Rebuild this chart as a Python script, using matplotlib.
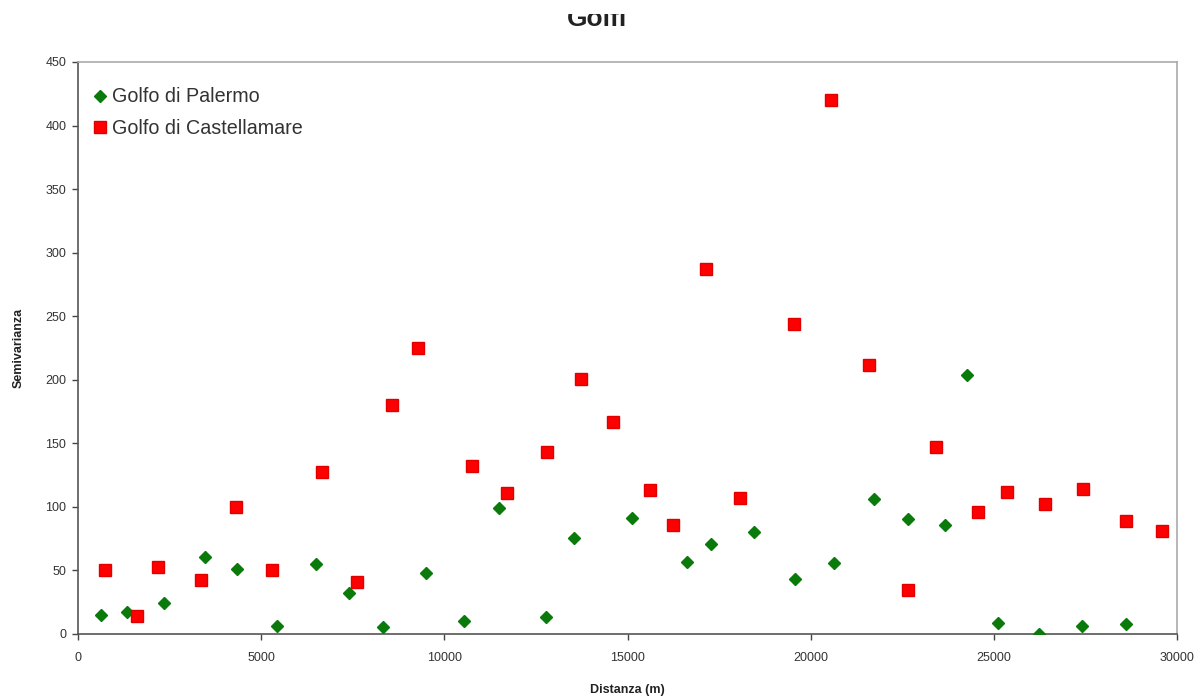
import matplotlib
matplotlib.use("Agg")
import matplotlib.pyplot as plt
from matplotlib.patches import Rectangle

plt.rcParams['font.family'] = ['Liberation Sans', 'DejaVu Sans']

title = "Golfi"
x_label = "Distanza (m)"
y_label = "Semivarianza"

palermo_label = "Golfo di Palermo"
palermo_x = [630, 1350, 2350, 3470, 4340, 5425, 6510, 7385, 8315, 9490,
             10530, 11480, 12780, 13530, 15130, 16630, 17270, 18460, 19566, 20641,
             21734, 22645, 23670, 24280, 25109, 26239, 27395, 28607]
palermo_y = [15, 17, 24, 60.5, 51, 6, 55, 32.5, 5.5, 48,
             10, 99.5, 13.4, 75.5, 91.3, 56.7, 71, 80, 43, 56,
             106, 90.5, 86, 204, 8.7, 0, 6, 7.6]

castel_label = "Golfo di Castellamare"
castel_x = [738, 1613, 2197, 3355, 4303, 5305, 6660, 7603, 8570, 9280,
            10765, 11705, 12790, 13720, 14615, 15610, 16235, 17130, 18070, 19545,
            20550, 21605, 22650, 23410, 24563, 25355, 26393, 27432, 28598, 29590]
castel_y = [50, 14.4, 53, 42.5, 99.7, 50, 127.5, 40.7, 179.8, 224.7,
            132, 111, 143.3, 201, 166.7, 113.6, 85.7, 287, 106.6, 244,
            420, 212, 35, 147.5, 96.3, 111.5, 102.4, 114, 89, 81.4]

x_ticks = [0, 5000, 10000, 15000, 20000, 25000, 30000]
y_ticks = [0, 50, 100, 150, 200, 250, 300, 350, 400, 450]

fig = plt.figure(figsize=(12.04, 6.97), dpi=100)
ax = fig.add_axes([78/1204, 63/697, 1099/1204, 572/697])

ax.plot(palermo_x, palermo_y, linestyle='none', marker='D', markersize=6.3,
        color='#0a7a0a', markeredgecolor='#0a7a0a', label=palermo_label, zorder=3)
ax.plot(castel_x, castel_y, linestyle='none', marker='s', markersize=8.3,
        color='#ff0000', markeredgecolor='#e00000', label=castel_label, zorder=3)

ax.set_xlim(0, 30000)
ax.set_ylim(0, 450)
ax.set_xticks(x_ticks)
ax.set_yticks(y_ticks)
ax.tick_params(axis='both', direction='out', length=4, width=1, colors='#444444',
               labelsize=9, labelcolor='#333333')
ax.tick_params(axis='x', pad=9)
ax.tick_params(axis='y', pad=4.5)

for s in ['left', 'bottom']:
    ax.spines[s].set_color('#555555')
    ax.spines[s].set_linewidth(1.2)
for s in ['top', 'right']:
    ax.spines[s].set_color('#aaaaaa')
    ax.spines[s].set_linewidth(1.2)

ax.set_xlabel(x_label, fontsize=9, fontweight='bold', color='#222222', labelpad=14)
ax.set_ylabel(y_label, fontsize=9, fontweight='bold', color='#222222', labelpad=15)

leg = ax.legend(loc='upper left', frameon=False, fontsize=14.2, handletextpad=0.2,
                handlelength=0.8, borderaxespad=0.6, labelspacing=0.62,
                bbox_to_anchor=(-0.005, 0.99))
for t in leg.get_texts():
    t.set_color('#333333')

fig.text(597/1204, 1 - 26/697, title, ha='center', va='baseline',
         fontsize=19, fontweight='bold', color='#222222')
fig.patches.append(Rectangle((0, 1 - 14/697), 1, 14/697, transform=fig.transFigure,
                             facecolor='white', edgecolor='none', zorder=10))

fig.savefig("out.png", dpi=100, facecolor='white')
